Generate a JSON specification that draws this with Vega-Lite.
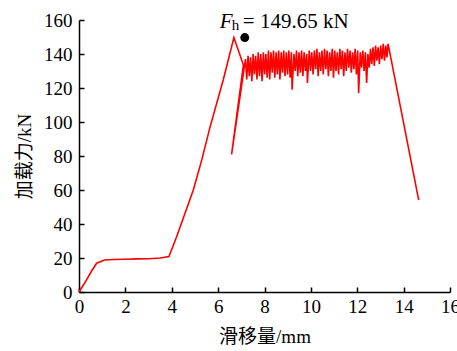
{
  "$schema": "https://vega.github.io/schema/vega-lite/v6.json",
  "width": 371,
  "height": 272,
  "autosize": {"type": "none"},
  "padding": {"left": 79, "top": 20, "right": 7, "bottom": 59},
  "background": "white",
  "config": {"view": {"stroke": null}, "font": "Liberation Serif"},
  "datasets": {
    "curve": [
      {"i":0,"x":0,"y":0},{"i":1,"x":0.3,"y":6.5},{"i":2,"x":0.55,"y":12.5},{"i":3,"x":0.76,"y":16.9},
      {"i":4,"x":1.1,"y":18.8},{"i":5,"x":1.5,"y":19.1},{"i":6,"x":2.0,"y":19.3},{"i":7,"x":2.5,"y":19.5},
      {"i":8,"x":3.0,"y":19.6},{"i":9,"x":3.5,"y":20},{"i":10,"x":3.88,"y":20.8},{"i":11,"x":4.21,"y":32.5},
      {"i":12,"x":4.93,"y":60},{"i":13,"x":5.3,"y":78},{"i":14,"x":5.65,"y":97},{"i":15,"x":6.22,"y":124.7},
      {"i":16,"x":6.68,"y":149.65},{"i":17,"x":7.09,"y":133.5},{"i":18,"x":6.58,"y":81},
      {"i":19,"x":7.18,"y":137},{"i":20,"x":7.235,"y":125},
      {"i":21,"x":7.29,"y":139},{"i":22,"x":7.345,"y":127},
      {"i":23,"x":7.40,"y":138},{"i":24,"x":7.455,"y":124},
      {"i":25,"x":7.51,"y":140},{"i":26,"x":7.565,"y":128},
      {"i":27,"x":7.62,"y":139},{"i":28,"x":7.675,"y":125},
      {"i":29,"x":7.73,"y":141},{"i":30,"x":7.785,"y":127},
      {"i":31,"x":7.84,"y":140},{"i":32,"x":7.895,"y":124},
      {"i":33,"x":7.95,"y":141},{"i":34,"x":8.005,"y":128},
      {"i":35,"x":8.06,"y":140},{"i":36,"x":8.115,"y":126},
      {"i":37,"x":8.17,"y":142},{"i":38,"x":8.225,"y":125},
      {"i":39,"x":8.28,"y":141},{"i":40,"x":8.335,"y":129},
      {"i":41,"x":8.39,"y":142},{"i":42,"x":8.445,"y":126},
      {"i":43,"x":8.50,"y":141},{"i":44,"x":8.555,"y":128},
      {"i":45,"x":8.61,"y":142},{"i":46,"x":8.665,"y":125},
      {"i":47,"x":8.72,"y":141},{"i":48,"x":8.775,"y":129},
      {"i":49,"x":8.83,"y":142},{"i":50,"x":8.885,"y":127},
      {"i":51,"x":8.94,"y":141},{"i":52,"x":8.995,"y":128},
      {"i":53,"x":9.05,"y":142},{"i":54,"x":9.105,"y":126},
      {"i":55,"x":9.16,"y":141},{"i":56,"x":9.19,"y":119},
      {"i":57,"x":9.27,"y":140},{"i":58,"x":9.325,"y":130},
      {"i":59,"x":9.38,"y":142},{"i":60,"x":9.435,"y":127},
      {"i":61,"x":9.49,"y":141},{"i":62,"x":9.545,"y":129},
      {"i":63,"x":9.60,"y":142},{"i":64,"x":9.655,"y":127},
      {"i":65,"x":9.71,"y":141},{"i":66,"x":9.765,"y":130},
      {"i":67,"x":9.82,"y":140},{"i":68,"x":9.85,"y":123},
      {"i":69,"x":9.93,"y":142},{"i":70,"x":9.985,"y":130},
      {"i":71,"x":10.04,"y":141},{"i":72,"x":10.095,"y":128},
      {"i":73,"x":10.15,"y":142},{"i":74,"x":10.205,"y":131},
      {"i":75,"x":10.26,"y":143},{"i":76,"x":10.315,"y":127},
      {"i":77,"x":10.37,"y":141},{"i":78,"x":10.425,"y":130},
      {"i":79,"x":10.48,"y":142},{"i":80,"x":10.535,"y":128},
      {"i":81,"x":10.59,"y":143},{"i":82,"x":10.645,"y":131},
      {"i":83,"x":10.70,"y":142},{"i":84,"x":10.755,"y":127},
      {"i":85,"x":10.81,"y":141},{"i":86,"x":10.865,"y":130},
      {"i":87,"x":10.92,"y":143},{"i":88,"x":10.975,"y":126},
      {"i":89,"x":11.03,"y":142},{"i":90,"x":11.085,"y":130},
      {"i":91,"x":11.14,"y":141},{"i":92,"x":11.195,"y":128},
      {"i":93,"x":11.25,"y":143},{"i":94,"x":11.305,"y":131},
      {"i":95,"x":11.36,"y":142},{"i":96,"x":11.415,"y":127},
      {"i":97,"x":11.47,"y":141},{"i":98,"x":11.525,"y":130},
      {"i":99,"x":11.58,"y":143},{"i":100,"x":11.635,"y":132},
      {"i":101,"x":11.69,"y":142},{"i":102,"x":11.745,"y":129},
      {"i":103,"x":11.80,"y":141},{"i":104,"x":11.855,"y":131},
      {"i":105,"x":11.91,"y":143},{"i":106,"x":11.965,"y":128},
      {"i":107,"x":12.02,"y":142},{"i":108,"x":12.06,"y":117},
      {"i":109,"x":12.13,"y":141},{"i":110,"x":12.185,"y":132},
      {"i":111,"x":12.24,"y":142},{"i":112,"x":12.295,"y":130},
      {"i":113,"x":12.35,"y":141},{"i":114,"x":12.405,"y":123},
      {"i":115,"x":12.46,"y":140},{"i":116,"x":12.515,"y":132},
      {"i":117,"x":12.57,"y":143},{"i":118,"x":12.625,"y":134},
      {"i":119,"x":12.68,"y":144},{"i":120,"x":12.735,"y":133},
      {"i":121,"x":12.79,"y":145},{"i":122,"x":12.845,"y":136},
      {"i":123,"x":12.90,"y":144},{"i":124,"x":12.955,"y":134},
      {"i":125,"x":13.01,"y":145},{"i":126,"x":13.065,"y":137},
      {"i":127,"x":13.12,"y":146},{"i":128,"x":13.175,"y":136},
      {"i":129,"x":13.23,"y":145},{"i":130,"x":13.28,"y":138},
      {"i":131,"x":13.33,"y":146},{"i":132,"x":14.65,"y":54}
    ],
    "peak": [{"x": 7.15, "y": 149.65}]
  },
  "encoding": {
    "x": {
      "field": "x", "type": "quantitative",
      "scale": {"domain": [0, 16], "nice": false, "zero": false},
      "axis": {
        "title": "滑移量/mm", "values": [0, 2, 4, 6, 8, 10, 12, 14, 16], "format": "d",
        "grid": false, "domainColor": "black", "domainWidth": 1.5, "tickColor": "black", "tickWidth": 1.5,
        "tickSize": -5, "labelPadding": 10, "labelColor": "black", "labelFontSize": 19, "labelFont": "Liberation Serif",
        "labelFlush": false, "labelOverlap": false, "labelBound": false,
        "titleFont": "Liberation Serif, Noto Sans CJK SC", "titleFontSize": 19, "titleFontWeight": "normal",
        "titleColor": "black", "titlePadding": 11
      }
    },
    "y": {
      "field": "y", "type": "quantitative",
      "scale": {"domain": [0, 160], "nice": false, "zero": false},
      "axis": {
        "title": "加载力/kN", "values": [0, 20, 40, 60, 80, 100, 120, 140, 160], "format": "d",
        "grid": false, "domainColor": "black", "domainWidth": 1.5, "tickColor": "black", "tickWidth": 1.5,
        "tickSize": -5, "labelPadding": 12, "labelColor": "black", "labelFontSize": 19, "labelFont": "Liberation Serif",
        "labelFlush": false, "labelOverlap": false, "labelBound": false,
        "titleFont": "Liberation Serif, Noto Sans CJK SC", "titleFontSize": 19, "titleFontWeight": "normal",
        "titleColor": "black", "titlePadding": 9
      }
    }
  },
  "layer": [
    {
      "data": {"name": "curve"},
      "mark": {"type": "line", "color": "#ff0000", "strokeWidth": 1.6, "clip": false},
      "encoding": {
        "order": {"field": "i", "type": "quantitative"}
      }
    },
    {
      "data": {"name": "peak"},
      "mark": {"type": "point", "filled": true, "color": "black", "opacity": 1, "size": 80}
    },
    {
      "data": {"name": "peak"},
      "mark": {"type": "text", "text": "F", "font": "Liberation Serif", "fontStyle": "italic", "fontSize": 21, "align": "left", "baseline": "alphabetic", "dx": -25, "dy": -10, "color": "black"}
    },
    {
      "data": {"name": "peak"},
      "mark": {"type": "text", "text": "h", "font": "Liberation Serif", "fontSize": 15, "align": "left", "baseline": "alphabetic", "dx": -13, "dy": -8, "color": "black"}
    },
    {
      "data": {"name": "peak"},
      "mark": {"type": "text", "text": "= 149.65 kN", "font": "Liberation Serif", "fontSize": 21, "align": "left", "baseline": "alphabetic", "dx": -2, "dy": -10, "color": "black"}
    }
  ]
}
